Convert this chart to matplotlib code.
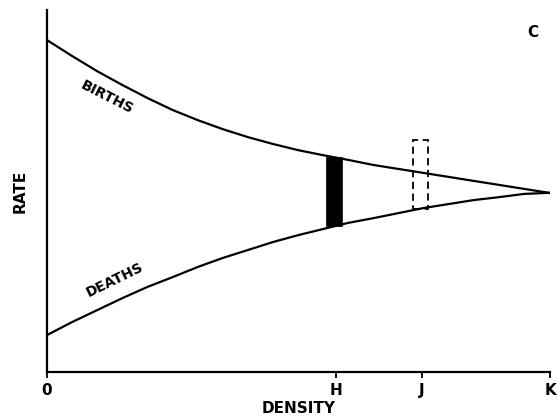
import numpy as np
import matplotlib
matplotlib.use("Agg")
import matplotlib.pyplot as plt
from matplotlib.patches import Rectangle

# density axis (K at 10)
density = [0, 0.5, 1, 1.5, 2, 2.5, 3, 3.5, 4, 4.5, 5,
           5.5, 6, 6.5, 7, 7.5, 8, 8.5, 9, 9.5, 10]
births = [9.17, 8.73, 8.31, 7.93, 7.57, 7.24, 6.96, 6.71, 6.49, 6.30, 6.13,
          5.99, 5.86, 5.72, 5.61, 5.50, 5.39, 5.28, 5.17, 5.06, 4.95]
deaths = [1.02, 1.38, 1.71, 2.04, 2.35, 2.62, 2.90, 3.15, 3.37, 3.59, 3.78,
          3.95, 4.12, 4.25, 4.39, 4.53, 4.64, 4.75, 4.83, 4.92, 4.95]

tick_pos = [0, 5.76, 7.47, 10.02]
tick_labels = ['0', 'H', 'J', 'K']

bar_x = 5.72      # H, black bar centre
bar_w = 0.32
rect_x = 7.44     # J, dashed bar centre
rect_w = 0.30

plt.rcParams['font.family'] = ['DejaVu Sans']

fig = plt.figure(figsize=(5.58, 4.18), dpi=100)
ax = fig.add_axes([0.0842, 0.110, 0.9015, 0.866])

ax.plot(density, births, color='black', lw=1.6, solid_joinstyle='round')
ax.plot(density, deaths, color='black', lw=1.6, solid_joinstyle='round')

# black bar between the curves at H
b_top = np.interp(bar_x, density, births)
b_bot = np.interp(bar_x, density, deaths)
ax.add_patch(Rectangle((bar_x - bar_w / 2, b_bot), bar_w, b_top - b_bot,
                       facecolor='black', edgecolor='black', lw=0.5))

# dashed bar of the same height, sitting on the deaths curve at J
r_bot = np.interp(rect_x, density, deaths)
ax.add_patch(Rectangle((rect_x - rect_w / 2, r_bot), rect_w, b_top - b_bot,
                       facecolor='none', edgecolor='black', lw=1.3,
                       linestyle=(0, (4, 2.5))))

ax.set_xlim(0, 10.02)
ax.set_ylim(0, 10)
for s in ['top', 'right']:
    ax.spines[s].set_visible(False)
ax.spines['left'].set_linewidth(1.6)
ax.spines['bottom'].set_linewidth(1.6)

ax.set_xticks(tick_pos)
ax.set_xticklabels(tick_labels, fontsize=11, fontweight='bold')
ax.tick_params(axis='x', length=4, width=1.3, pad=4)
ax.set_yticks([])

ax.set_xlabel('DENSITY', fontsize=11, fontweight='bold', labelpad=2)
ax.set_ylabel('RATE', fontsize=11, fontweight='bold', labelpad=14)

ax.text(1.2, 7.6, 'BIRTHS', rotation=-27, fontsize=10, fontweight='bold',
        ha='center', va='center')
ax.text(1.35, 2.55, 'DEATHS', rotation=26, fontsize=10, fontweight='bold',
        ha='center', va='center')
ax.text(9.68, 9.38, 'C', fontsize=11, fontweight='bold', ha='center', va='center')

fig.savefig('out.png', dpi=100)
